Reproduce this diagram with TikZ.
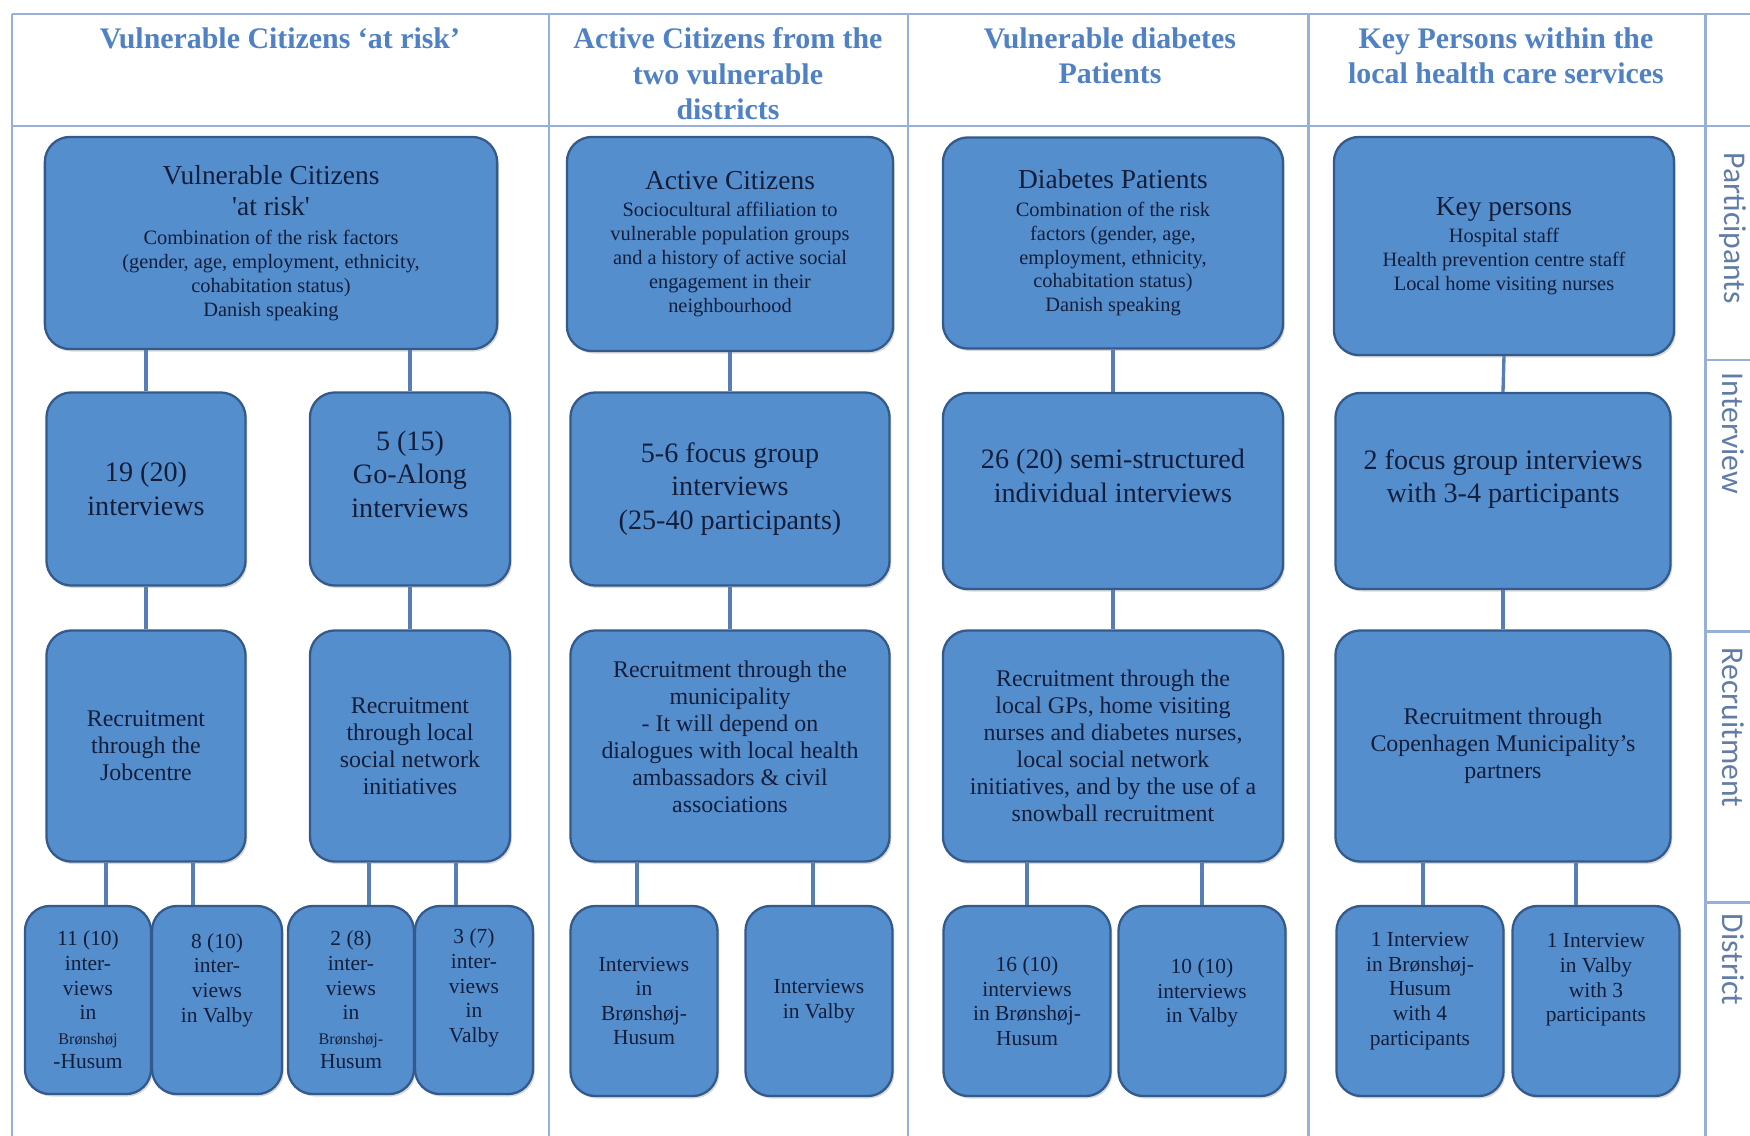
\documentclass[tikz,border=0pt]{standalone}
\usepackage{fontspec}
\usepackage{tikz}
\usetikzlibrary{shadows}
\setmainfont{Liberation Serif}
\newfontfamily\sidefont{Carlito}
\definecolor{boxblue}{RGB}{84,142,205}
\definecolor{boxline}{RGB}{52,90,140}
\definecolor{headblue}{RGB}{79,129,196}
\definecolor{framecol}{RGB}{150,176,214}
\definecolor{linkcol}{RGB}{86,126,180}
\definecolor{inktext}{RGB}{20,30,58}
\definecolor{sidecol}{RGB}{98,124,168}
\newcommand\boxtitle{\fontsize{7.8}{9}\selectfont}
\newcommand\boxsmall{\fontsize{5.8}{6.8}\selectfont}

\begin{document}
\begin{tikzpicture}[x=0.01cm,y=-0.01cm,
  blok/.style={draw=boxline,line width=0.65pt,fill=boxblue,rounded corners=0.25cm,
    text=inktext,align=center,inner sep=1pt,
    drop shadow={shadow xshift=0.5pt,shadow yshift=-0.7pt,opacity=0.3}},
  topbox/.style={blok,font=\boxsmall},
  formbox/.style={blok,font=\fontsize{8}{9.5}\selectfont},
  recbox/.style={blok,font=\fontsize{6.8}{7.7}\selectfont},
  areabox/.style={blok,font=\fontsize{6.1}{7}\selectfont},
  kop/.style={text=headblue,font=\bfseries\fontsize{8.5}{10.1}\selectfont,align=center,anchor=north,inner sep=0pt},
  zij/.style={text=sidecol,font=\sidefont\fontsize{9}{10}\selectfont,rotate=-90,anchor=west,inner sep=0pt},
  rand/.style={draw=framecol,line width=0.85pt},
  link/.style={draw=linkcol,line width=0.95pt}]
\useasboundingbox (0,0) rectangle (1750,1136);

\draw[rand] (12,14) -- (1750,14);
\draw[rand] (12,126) -- (1750,126);
\draw[rand] (12,14) -- (12,1136);
\draw[rand] (549,14) -- (549,1136);
\draw[rand] (908,14) -- (908,1136);
\draw[rand] (1308,14) -- (1308,1136);
\draw[rand] (1705,14) -- (1705,1136);
\draw[rand] (1705,360) -- (1750,360);
\draw[rand] (1705,631) -- (1750,631);
\draw[rand] (1705,902) -- (1750,902);

\node[kop] (h1) at (280,27) {Vulnerable Citizens `at risk'};
\node[kop] (h2) at (728,27) {Active Citizens from the\\two vulnerable\\districts};
\node[kop] (h3) at (1110,27) {Vulnerable diabetes\\Patients};
\node[kop] (h4) at (1506,27) {Key Persons within the\\local health care services};

\node[zij] (s1) at (1733,152) {Participants};
\node[zij] (s2) at (1733,372) {Interview};
\node[zij] (s3) at (1733,647) {Recruitment};
\node[zij] (s4) at (1733,913) {District};

\node[topbox,minimum width=4.52cm,minimum height=2.12cm] (vc) at (271,243)
  {\boxtitle Vulnerable Citizens\\[2.2pt]\boxtitle\textquotesingle at risk\textquotesingle\\[1.5pt]
   Combination of the risk factors\\(gender, age, employment, ethnicity,\\cohabitation status)\\Danish speaking};
\node[formbox,minimum width=1.99cm,minimum height=1.93cm] (ga) at (146,489) {19 (20)\\interviews};
\node[formbox,minimum width=2cm,minimum height=1.93cm] (gb) at (410,489) {5 (15)\\Go-Along\\interviews\\[-0.9pt]\mbox{}};
\node[recbox,minimum width=1.99cm,minimum height=2.31cm] (ra) at (146,746) {Recruitment\\through the\\Jobcentre};
\node[recbox,minimum width=2cm,minimum height=2.31cm] (rb) at (410,746) {Recruitment\\through local\\social network\\initiatives};
\node[areabox,minimum width=1.26cm,minimum height=1.88cm] (da) at (88,1000)
  {11 (10)\\inter-\\views\\in\\{\fontsize{4.6}{6}\selectfont Brønshøj}\\-Husum};
\node[areabox,minimum width=1.3cm,minimum height=1.88cm] (db) at (217,1000) {8 (10)\\inter-\\views\\in Valby\\[5.6pt]\mbox{}};
\node[areabox,minimum width=1.26cm,minimum height=1.88cm] (dc) at (351,1000)
  {2 (8)\\inter-\\views\\in\\{\fontsize{4.6}{6}\selectfont Brønshøj-}\\Husum};
\node[areabox,minimum width=1.18cm,minimum height=1.88cm] (dd) at (474,1000) {3 (7)\\inter-\\views\\in\\Valby\\[1.2pt]\mbox{}};

\node[topbox,minimum width=3.26cm,minimum height=2.14cm] (ac) at (730,244)
  {\boxtitle Active Citizens\\[1pt]
   Sociocultural affiliation to\\vulnerable population groups\\and a history of active social\\engagement in their\\neighbourhood};
\node[formbox,minimum width=3.19cm,minimum height=1.93cm] (af) at (730,489) {5-6 focus group\\interviews\\(25-40 participants)};
\node[recbox,minimum width=3.19cm,minimum height=2.31cm] (ar) at (730,746)
  {Recruitment through the\\municipality\\- It will depend on\\dialogues with local health\\ambassadors \& civil\\associations\\[-2.3pt]\mbox{}};
\node[areabox,minimum width=1.47cm,minimum height=1.9cm] (aw1) at (644,1001) {Interviews\\in\\Brønshøj-\\Husum};
\node[areabox,minimum width=1.47cm,minimum height=1.9cm] (aw2) at (819,1001) {Interviews\\in Valby};

\node[topbox,minimum width=3.4cm,minimum height=2.11cm] (dp) at (1113,243)
  {\boxtitle Diabetes Patients\\[1pt]
   Combination of the risk\\factors (gender, age,\\employment, ethnicity,\\cohabitation status)\\Danish speaking};
\node[formbox,minimum width=3.4cm,minimum height=1.96cm] (ds) at (1113,491) {26 (20) semi-structured\\individual interviews\\[-0.9pt]\mbox{}};
\node[recbox,minimum width=3.4cm,minimum height=2.31cm] (dr) at (1113,746)
  {Recruitment through the\\local GPs, home visiting\\nurses and diabetes nurses,\\local social network\\initiatives, and by the use of a\\snowball recruitment};
\node[areabox,minimum width=1.67cm,minimum height=1.9cm] (dw1) at (1027,1001) {16 (10)\\interviews\\in Brønshøj-\\Husum};
\node[areabox,minimum width=1.67cm,minimum height=1.9cm] (dw2) at (1202,1001) {10 (10)\\interviews\\in Valby\\[-1.2pt]\mbox{}};

\node[topbox,minimum width=3.4cm,minimum height=2.18cm] (kp) at (1504,246)
  {\boxtitle Key persons\\[1pt]
   Hospital staff\\Health prevention centre staff\\Local home visiting nurses};
\node[formbox,minimum width=3.35cm,minimum height=1.96cm] (kf) at (1503,491) {2 focus group interviews\\with 3-4 participants\\[-0.9pt]\mbox{}};
\node[recbox,minimum width=3.35cm,minimum height=2.31cm] (kr) at (1503,746)
  {Recruitment through\\Copenhagen Municipality's\\partners};
\node[areabox,minimum width=1.67cm,minimum height=1.9cm] (kw1) at (1420,1001) {1 Interview\\in Brønshøj-\\Husum\\with 4\\participants\\[0pt]\mbox{}};
\node[areabox,minimum width=1.67cm,minimum height=1.9cm] (kw2) at (1596,1001) {1 Interview\\in Valby\\with 3\\participants\\[6.2pt]\mbox{}};

\draw[link] (ga.north |- vc.south) -- (ga.north);
\draw[link] (gb.north |- vc.south) -- (gb.north);
\draw[link] (ga.south) -- (ra.north);
\draw[link] (gb.south) -- (rb.north);
\draw[link] ([xshift=-0.4cm]ra.south) -- ([xshift=-0.4cm]ra.south |- da.north);
\draw[link] ([xshift=0.47cm]ra.south) -- ([xshift=0.47cm]ra.south |- db.north);
\draw[link] ([xshift=-0.41cm]rb.south) -- ([xshift=-0.41cm]rb.south |- dc.north);
\draw[link] ([xshift=0.46cm]rb.south) -- ([xshift=0.46cm]rb.south |- dd.north);

\draw[link] (ac.south) -- (af.north);
\draw[link] (af.south) -- (ar.north);
\draw[link] ([xshift=-0.93cm]ar.south) -- ([xshift=-0.93cm]ar.south |- aw1.north);
\draw[link] ([xshift=0.83cm]ar.south) -- ([xshift=0.83cm]ar.south |- aw2.north);

\draw[link] (dp.south) -- (ds.north);
\draw[link] (ds.south) -- (dr.north);
\draw[link] (dw1.north |- dr.south) -- (dw1.north);
\draw[link] (dw2.north |- dr.south) -- (dw2.north);

\draw[link] (kp.south) -- (kf.north);
\draw[link] (kf.south) -- (kr.north);
\draw[link] ([xshift=-0.8cm]kr.south) -- ([xshift=-0.8cm]kr.south |- kw1.north);
\draw[link] ([xshift=0.73cm]kr.south) -- ([xshift=0.73cm]kr.south |- kw2.north);

\end{tikzpicture}
\end{document}
